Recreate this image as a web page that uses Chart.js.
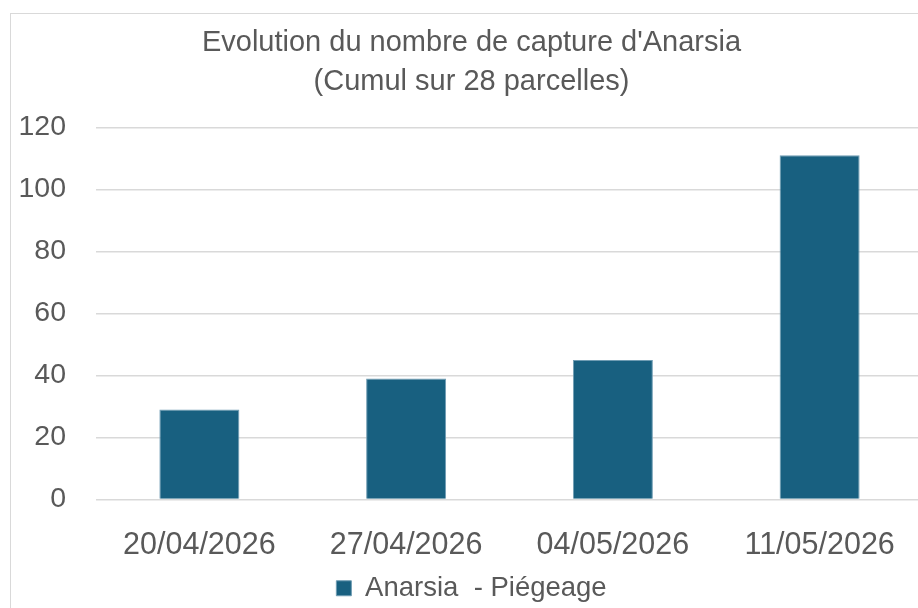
<!DOCTYPE html>
<html>
<head>
<meta charset="utf-8">
<script src="https://cdn.jsdelivr.net/npm/chart.js@4.4.1/dist/chart.umd.min.js"></script>
<style>
html,body{margin:0;padding:0;background:#fff;overflow:hidden;width:918px;height:608px;}
#wrap{position:absolute;left:0;top:0;width:943px;height:608px;}
#frame{position:absolute;left:10px;top:13px;width:1000px;height:700px;border-left:1px solid #d9d9d9;border-top:1px solid #d9d9d9;pointer-events:none;}
</style>
</head>
<body>
<div id="wrap"><canvas id="c" width="943" height="608"></canvas></div>
<div id="frame"></div>
<script>
const dates = ['20/04/2026','27/04/2026','04/05/2026','11/05/2026'];
const captures = [29, 39, 45, 111];
const seriesName = 'Anarsia  - Piégeage';
const titleLines = ["Evolution du nombre de capture d'Anarsia", '(Cumul sur 28 parcelles)'];

const txt = '#595959';
const font = 'Liberation Sans, Arial, sans-serif';

new Chart(document.getElementById('c').getContext('2d'), {
  type: 'bar',
  data: {
    labels: dates,
    datasets: [{
      label: seriesName,
      data: captures,
      backgroundColor: '#186080',
      borderColor: '#6f9cb3',
      borderWidth: 1,
      categoryPercentage: 1,
      barPercentage: 0.387
    }]
  },
  options: {
    responsive: false,
    animation: false,
    layout: {padding: {left: 0, right: 0, top: 0, bottom: -4}},
    plugins: {
      title: {
        display: true,
        text: titleLines,
        color: txt,
        font: {family: font, size: 29, weight: 'normal', lineHeight: 1.35},
        padding: {top: 23, bottom: 26}
      },
      legend: {
        position: 'bottom',
        labels: {
          color: txt,
          font: {family: font, size: 27.5},
          boxWidth: 15,
          boxHeight: 15,
          padding: 2
        }
      },
      tooltip: {enabled: false}
    },
    scales: {
      x: {
        grid: {display: false},
        border: {display: false},
        ticks: {color: txt, font: {family: font, size: 30.5}, padding: 20, maxRotation: 0},
        afterFit: s => { s.height = 73; }
      },
      y: {
        min: 0, max: 120,
        grid: {color: '#d9d9d9', lineWidth: 1.5, drawTicks: false},
        border: {display: false},
        ticks: {stepSize: 20, color: txt, font: {family: font, size: 28.5}, padding: 30},
        afterFit: s => { s.width = 96; }
      },
      // empty spacer on the right so the plot ends just past the frame
      yr: {
        position: 'right',
        min: 0, max: 120,
        grid: {display: false},
        border: {display: false},
        ticks: {display: false},
        afterFit: s => { s.width = 20; }
      }
    }
  }
});
</script>
</body>
</html>
